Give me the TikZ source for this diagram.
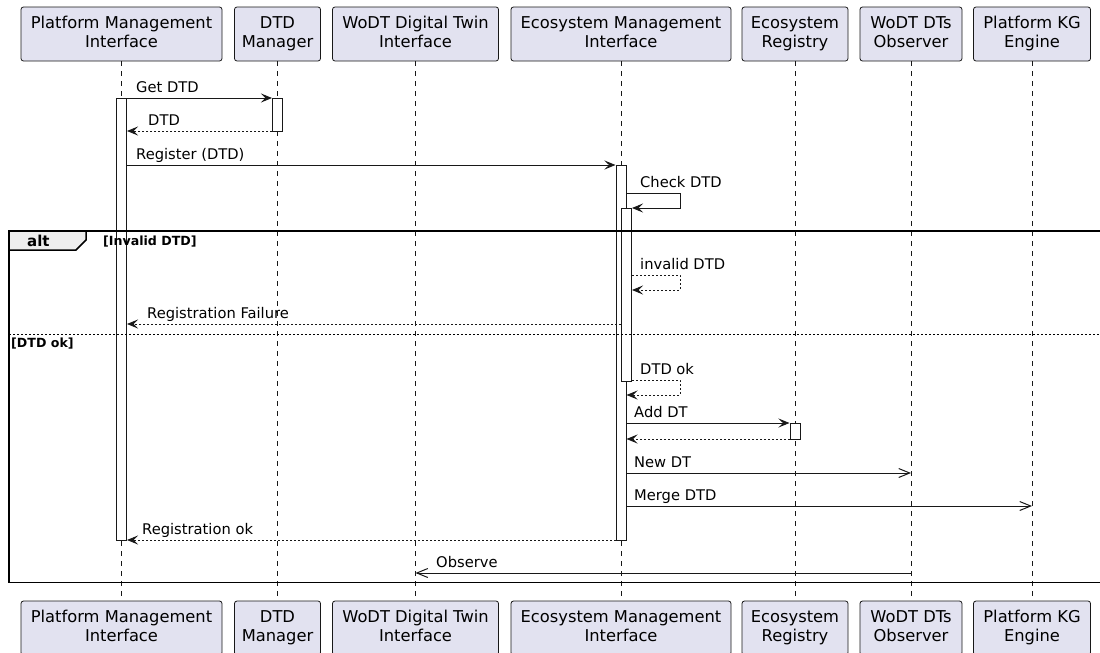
\documentclass[tikz,border=0pt]{standalone}
\usepackage{fontspec}
\setmainfont{DejaVu Sans}
\usetikzlibrary{arrows.meta}
\definecolor{lc}{HTML}{181818}
\definecolor{pfill}{HTML}{E2E2F0}
\definecolor{tabfill}{HTML}{EEEEEE}
% strut giving every participant line the same height and depth
\newcommand\pst{\rule[-4pt]{0pt}{15pt}}
\begin{document}
\begin{tikzpicture}[x=1pt,y=-1pt,
  part/.style={draw=lc, line width=0.8pt, fill=pfill, rounded corners=2.5pt,
    minimum height=54pt, inner sep=0pt, align=center,
    font=\fontsize{16.3}{19}\selectfont},
  lifeline/.style={draw=lc, line width=0.5pt, dash pattern=on 5pt off 5pt},
  bar/.style={draw=lc, fill=white, line width=1pt, minimum width=10pt, inner sep=0pt},
  msg/.style={draw=lc, line width=1pt},
  sync/.style={msg, -{Stealth[length=11pt,width=9pt,inset=4.5pt]}},
  async/.style={msg, -{Straight Barb[length=11pt,width=9pt]}},
  ret/.style={sync, dash pattern=on 2pt off 2pt},
  mlabel/.style={anchor=base west, inner sep=0pt, font=\fontsize{14.7}{17}\selectfont},
  frameline/.style={draw=black, line width=1.5pt},
  guard/.style={anchor=base west, inner sep=0pt, font=\fontsize{12.6}{14}\selectfont\bfseries},
]
\useasboundingbox (0,0) rectangle (1100,653);
\clip (0,0) rectangle (1100,653);

% participants, top row
\node[part, minimum width=201pt] (t1) at (121.5,34) {\pst Platform Management\\\pst Interface};
\node[part, minimum width=86pt]  (t2) at (277.5,34) {\pst DTD\\\pst Manager};
\node[part, minimum width=166pt] (t3) at (415.5,34) {\pst WoDT Digital Twin\\\pst Interface};
\node[part, minimum width=220pt] (t4) at (621,34)   {\pst Ecosystem Management\\\pst Interface};
\node[part, minimum width=106pt] (t5) at (795,34)   {\pst Ecosystem\\\pst Registry};
\node[part, minimum width=102pt] (t6) at (911,34)   {\pst WoDT DTs\\\pst Observer};
\node[part, minimum width=117pt] (t7) at (1032,34)  {\pst Platform KG\\\pst Engine};

% participants, bottom row
\node[part, minimum width=201pt] (b1) at (121.5,628) {\pst Platform Management\\\pst Interface};
\node[part, minimum width=86pt]  (b2) at (277.5,628) {\pst DTD\\\pst Manager};
\node[part, minimum width=166pt] (b3) at (415.5,628) {\pst WoDT Digital Twin\\\pst Interface};
\node[part, minimum width=220pt] (b4) at (621,628)   {\pst Ecosystem Management\\\pst Interface};
\node[part, minimum width=106pt] (b5) at (795,628)   {\pst Ecosystem\\\pst Registry};
\node[part, minimum width=102pt] (b6) at (911,628)   {\pst WoDT DTs\\\pst Observer};
\node[part, minimum width=117pt] (b7) at (1032,628)  {\pst Platform KG\\\pst Engine};

% lifelines
\foreach \i in {1,...,7} \draw[lifeline] (t\i) -- (b\i);

% activation bars
\node[bar, minimum height=442pt] (pA) at (121.5,319) {};
\node[bar, minimum height=33pt]  (dA) at (277.5,114.5) {};
\node[bar, minimum height=375pt] (eA) at (621,352.5) {};
\node[bar, minimum height=173pt] (eB) at (626.5,294.5) {};
\node[bar, minimum height=16pt]  (rA) at (795,431) {};

% messages
\draw[sync] (pA.east |- 0,98) -- (dA.west |- 0,98);
\node[mlabel] (l1) at (136,92.2) {Get DTD};
\draw[ret] (dA.west |- 0,131) -- (pA.east |- 0,131);
\node[mlabel] (l2) at (148,125.4) {DTD};
\draw[sync] (pA.east |- 0,165) -- (eA.west |- 0,165);
\node[mlabel] (l3) at (136,159.2) {Register (DTD)};
\draw[sync] (eA.east |- 0,193) -- (680,193) -- (680,208) -- (eB.east |- 0,208);
\node[mlabel] (l4) at (640,187.2) {Check DTD};
\draw[ret] (eB.east |- 0,275) -- (680,275) -- (680,290) -- (eB.east |- 0,290);
\node[mlabel] (l5) at (640,269.2) {invalid DTD};
\draw[ret] (eB.west |- 0,324) -- (pA.east |- 0,324);
\node[mlabel] (l6) at (147,318.2) {Registration Failure};
\draw[ret] (eB.east |- 0,380) -- (680,380) -- (680,395) -- (eA.east |- 0,395);
\node[mlabel] (l7) at (640,374.2) {DTD ok};
\draw[sync] (eA.east |- 0,423) -- (rA.west |- 0,423);
\node[mlabel] (l8) at (634,417.2) {Add DT};
\draw[ret] (rA.west |- 0,439) -- (eA.east |- 0,439);
\draw[async] (eA.east |- 0,473) -- (t6 |- 0,473);
\node[mlabel] (l9) at (634,467.2) {New DT};
\draw[async] (eA.east |- 0,506) -- (t7 |- 0,506);
\node[mlabel] (l10) at (634,500.2) {Merge DTD};
\draw[ret] (eA.west |- 0,540) -- (pA.east |- 0,540);
\node[mlabel] (l11) at (142,534.2) {Registration ok};
\draw[async] (t6 |- 0,573) -- (t3 |- 0,573);
\node[mlabel] (l12) at (436,567.2) {Observe};

% alt fragment
\draw[frameline] (1102,231) -- (9,231) -- (9,582.5) -- (1102,582.5);
\filldraw[fill=tabfill, frameline] (9,231) -- (86,231) -- (86,240) -- (76,250) -- (9,250) -- cycle;
\node[anchor=base west, inner sep=0pt, font=\fontsize{15}{17}\selectfont\bfseries] (alt) at (27,246) {alt};
\node[guard] (g1) at (103,245.5) {[Invalid DTD]};
\draw[draw=black, line width=1pt, dash pattern=on 2pt off 2pt] (9,334) -- (1102,334);
\node[guard] (g2) at (11,347) {[DTD ok]};
\end{tikzpicture}
\end{document}
